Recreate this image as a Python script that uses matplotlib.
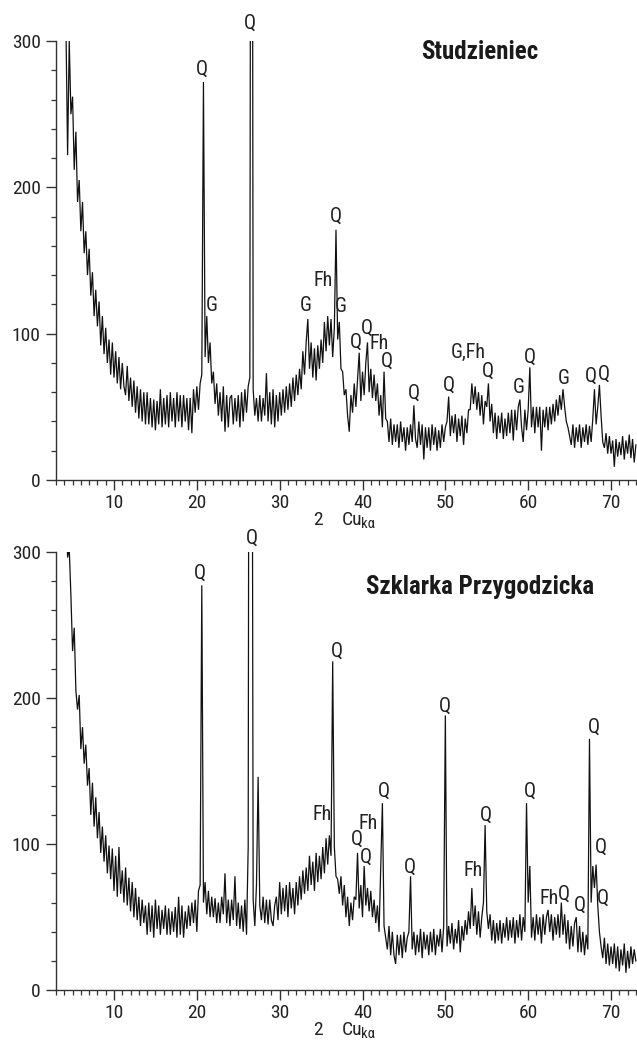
import os
import numpy as np
import matplotlib
matplotlib.use("Agg")
import matplotlib.pyplot as plt
from matplotlib import font_manager, transforms
from matplotlib.font_manager import FontProperties
from matplotlib.ticker import MultipleLocator

# ---------------- data ----------------
# 2-theta sampling grid (degrees), step 0.2 from 4.2 to 73.0
two_theta = np.round(4.2 + 0.2 * np.arange(345), 1)

studzieniec = [
    310, 222, 300, 250, 262, 212, 238, 190, 205, 170,
    190, 155, 170, 140, 158, 126, 142, 112, 130, 105,
    122, 92, 112, 86, 104, 80, 96, 72, 94, 70,
    88, 66, 84, 62, 80, 64, 58, 78, 54, 70,
    50, 68, 46, 64, 42, 62, 40, 60, 38, 60,
    38, 56, 36, 55, 34, 54, 38, 62, 36, 56,
    38, 58, 36, 60, 40, 56, 36, 60, 40, 58,
    36, 58, 40, 56, 34, 56, 32, 62, 46, 64,
    48, 66, 72, 272, 84, 112, 80, 94, 66, 74,
    52, 66, 44, 60, 40, 64, 33, 58, 36, 56,
    58, 38, 56, 40, 58, 36, 60, 40, 62, 46,
    64, 70, 900, 62, 44, 56, 40, 58, 40, 56,
    44, 73, 40, 60, 38, 62, 36, 58, 40, 60,
    44, 62, 46, 64, 48, 66, 50, 70, 54, 72,
    58, 76, 62, 88, 72, 94, 110, 76, 94, 70,
    90, 68, 92, 76, 96, 80, 108, 88, 112, 92,
    110, 84, 104, 171, 96, 108, 76, 74, 58, 62,
    44, 33, 58, 46, 66, 50, 68, 87, 54, 74,
    58, 80, 94, 60, 76, 56, 72, 54, 66, 44,
    58, 36, 74, 42, 40, 26, 42, 24, 38, 26,
    38, 22, 40, 26, 36, 20, 36, 24, 38, 26,
    51, 28, 22, 40, 24, 38, 14, 36, 22, 36,
    20, 38, 24, 36, 20, 34, 22, 38, 26, 36,
    40, 57, 30, 44, 32, 45, 26, 42, 30, 44,
    24, 42, 32, 48, 48, 66, 52, 64, 48, 60,
    44, 58, 38, 54, 50, 66, 40, 52, 32, 46,
    28, 44, 32, 46, 28, 42, 30, 46, 32, 48,
    27, 48, 34, 50, 55, 36, 26, 48, 34, 48,
    77, 36, 50, 32, 50, 36, 50, 20, 48, 36,
    50, 34, 50, 38, 52, 40, 55, 44, 58, 48,
    62, 50, 40, 36, 30, 24, 38, 22, 36, 26,
    38, 22, 36, 26, 38, 24, 37, 26, 42, 62,
    38, 50, 65, 44, 26, 22, 32, 18, 30, 18,
    27, 9, 28, 16, 26, 17, 30, 14, 27, 18,
    31, 15, 28, 12, 24,
]

szklarka = [
    340, 296, 302, 270, 232, 248, 205, 192, 202, 165,
    180, 155, 168, 140, 152, 120, 142, 112, 132, 104,
    122, 94, 112, 88, 106, 80, 99, 76, 97, 68,
    92, 64, 98, 66, 82, 60, 84, 58, 77, 54,
    74, 50, 70, 48, 64, 44, 62, 46, 58, 38,
    60, 40, 58, 36, 62, 42, 58, 38, 55, 42,
    58, 38, 56, 38, 54, 40, 57, 36, 64, 38,
    58, 36, 54, 42, 58, 44, 60, 46, 62, 40,
    68, 72, 277, 60, 74, 52, 68, 50, 64, 50,
    63, 46, 60, 46, 64, 52, 80, 46, 62, 44,
    62, 48, 78, 44, 60, 42, 58, 40, 62, 38,
    98, 900, 700, 62, 44, 72, 146, 58, 48, 64,
    46, 62, 45, 62, 48, 44, 58, 64, 48, 74,
    52, 70, 54, 72, 50, 74, 56, 70, 52, 74,
    58, 78, 62, 82, 66, 84, 68, 92, 72, 88,
    68, 94, 74, 92, 76, 98, 80, 104, 86, 106,
    92, 225, 98, 78, 76, 66, 78, 58, 72, 50,
    64, 44, 60, 48, 64, 62, 94, 56, 72, 50,
    85, 58, 70, 54, 68, 50, 62, 46, 58, 40,
    84, 128, 44, 36, 28, 44, 24, 40, 24, 18,
    38, 24, 38, 22, 40, 26, 36, 40, 78, 28,
    40, 24, 38, 26, 42, 22, 40, 28, 38, 24,
    40, 26, 42, 24, 38, 30, 42, 26, 44, 188,
    30, 44, 32, 46, 28, 42, 32, 48, 26, 44,
    34, 48, 38, 54, 42, 70, 44, 58, 38, 54,
    36, 50, 60, 113, 54, 42, 52, 34, 48, 32,
    46, 34, 48, 32, 46, 36, 50, 34, 48, 36,
    50, 32, 48, 36, 52, 34, 50, 40, 128, 60,
    85, 36, 50, 34, 52, 38, 50, 32, 52, 38,
    50, 55, 40, 52, 34, 50, 38, 52, 36, 60,
    38, 52, 32, 48, 28, 44, 30, 46, 50, 26,
    44, 26, 40, 24, 38, 28, 172, 60, 85, 70,
    86, 58, 40, 30, 22, 36, 18, 32, 17, 30,
    18, 32, 15, 30, 13, 28, 17, 32, 12, 27,
    15, 30, 18, 28, 20,
]

# peak annotations: (label, 2-theta, intensity)
top_peak_labels = ["Q", "Q", "G", "G", "Fh", "Q", "G", "Q", "Q", "Fh", "Q",
                   "Q", "Q", "G,Fh", "Q", "G", "Q", "G", "Q", "Q"]
top_peak_x = [20.6, 26.45, 21.8, 33.1, 35.3, 36.8, 37.4, 39.25, 40.5, 41.95, 43.0,
              46.2, 50.4, 52.8, 55.2, 58.85, 60.26, 64.3, 67.6, 69.1]
top_peak_y = [281, 312, 119, 119, 136, 180, 118.5, 94, 104, 93, 81,
              59, 65, 87, 74, 63, 84, 69.5, 70.6, 72.5]

bot_peak_labels = ["Q", "Q", "Q", "Fh", "Q", "Q", "Fh", "Q", "Q", "Q", "Fh",
                   "Q", "Q", "Fh", "Q", "Q", "Q", "Q", "Q"]
bot_peak_x = [20.4, 26.65, 36.9, 35.1, 39.3, 40.4, 40.7, 42.55, 45.7, 50.0, 53.4,
              54.86, 60.26, 62.5, 64.3, 66.2, 67.95, 68.83, 69.0]
bot_peak_y = [285, 309, 232, 120, 103, 91, 114, 136, 84.5, 194, 82,
              120, 136, 63, 66, 58, 180, 98, 63]

sample_names = ["Studzieniec", "Szklarka Przygodzicka"]
xlabel_parts = ["2", "Cu", "kα"]

# ---------------- fonts ----------------
def find_condensed(bold):
    prefs = ["Liberation Sans Narrow", "Roboto Condensed", "Open Sans Condensed",
             "DejaVu Sans", "Noto Sans", "Open Sans", "Roboto", "Lato", "Inter"]
    found = {}
    for f in font_manager.fontManager.ttflist:
        fn = os.path.basename(f.fname).lower()
        if not any(k in fn for k in ("narrow", "condensed", "cond")):
            continue
        if any(k in fn for k in ("italic", "oblique", "semi", "extra", "light", "thin", "black", "medium")):
            continue
        is_bold = "bold" in fn
        if is_bold != bold:
            continue
        found.setdefault(f.name, f.fname)
    for p in prefs:
        if p in found:
            return found[p]
    if found:
        return sorted(found.values())[0]
    return None

reg_path = find_condensed(False)
bold_path = find_condensed(True)
if reg_path:
    FP = lambda s: FontProperties(fname=reg_path, size=s)
else:
    FP = lambda s: FontProperties(family="Liberation Sans", size=s * 0.88)
if bold_path:
    FPB = lambda s: FontProperties(fname=bold_path, size=s)
else:
    FPB = lambda s: FontProperties(family="Liberation Sans", weight="bold", size=s * 0.88)

TXT = "#222222"
AX = "#333333"

fig = plt.figure(figsize=(6.37, 10.41), dpi=100)
W, H = 637.0, 1041.0
left = 56 / W
width = (636.7 - 56) / W
ax1 = fig.add_axes([left, 1 - 480 / H, width, (480 - 41) / H])
ax2 = fig.add_axes([left, 1 - 990.3 / H, width, (990.3 - 551.7) / H])

panels = [
    (ax1, studzieniec, top_peak_labels, top_peak_x, top_peak_y, 292.6),
    (ax2, szklarka, bot_peak_labels, bot_peak_x, bot_peak_y, 276),
]

for i, (ax, vals, labs, lx, ly, ty) in enumerate(panels):
    ax.plot(two_theta, vals, color="#111111", lw=0.9, solid_joinstyle="miter")
    ax.set_xlim(3.0, 73.1)
    ax.set_ylim(0, 300)
    for s in ("top", "right"):
        ax.spines[s].set_visible(False)
    for s in ("left", "bottom"):
        ax.spines[s].set_color(AX)
        ax.spines[s].set_linewidth(1.0)
    ax.xaxis.set_major_locator(MultipleLocator(10))
    ax.xaxis.set_minor_locator(MultipleLocator(1))
    ax.yaxis.set_major_locator(MultipleLocator(100))
    ax.yaxis.set_minor_locator(MultipleLocator(20))
    ax.tick_params(axis="x", which="major", length=7, width=1.0, color=AX,
                   labelcolor=TXT, pad=3)
    ax.tick_params(axis="x", which="minor", length=3.5, width=0.9, color=AX)
    ax.tick_params(axis="y", which="major", length=7, width=1.0, color=AX,
                   labelcolor=TXT, pad=4)
    ax.tick_params(axis="y", which="minor", length=3.5, width=0.9, color=AX)
    for lbl in ax.get_xticklabels() + ax.get_yticklabels():
        lbl.set_fontproperties(FP(14))

    # x-axis label "2   Cu_kα"
    tr = transforms.blended_transform_factory(ax.transData, ax.transAxes)
    ylab = -40.0 / 439.0
    ax.text(34.6, ylab, xlabel_parts[0], transform=tr, ha="center", va="center",
            fontproperties=FP(14), color=TXT, clip_on=False)
    ax.text(37.5, ylab, xlabel_parts[1], transform=tr, ha="left", va="center",
            fontproperties=FP(14), color=TXT, clip_on=False)
    tr_sub = transforms.offset_copy(tr, fig=fig, x=0, y=-4, units="dots")
    ax.text(39.85, ylab, xlabel_parts[2], transform=tr_sub, ha="left", va="center",
            fontproperties=FP(10.5), color=TXT, clip_on=False)

    for t, x, y in zip(labs, lx, ly):
        ax.text(x, y, t, ha="center", va="center", fontproperties=FP(14.5),
                color=TXT, clip_on=False)
    ax.text(54.2, ty, sample_names[i], ha="center", va="center",
            fontproperties=FPB(18), color="#1a1a1a")

fig.savefig("out.png", dpi=100)
